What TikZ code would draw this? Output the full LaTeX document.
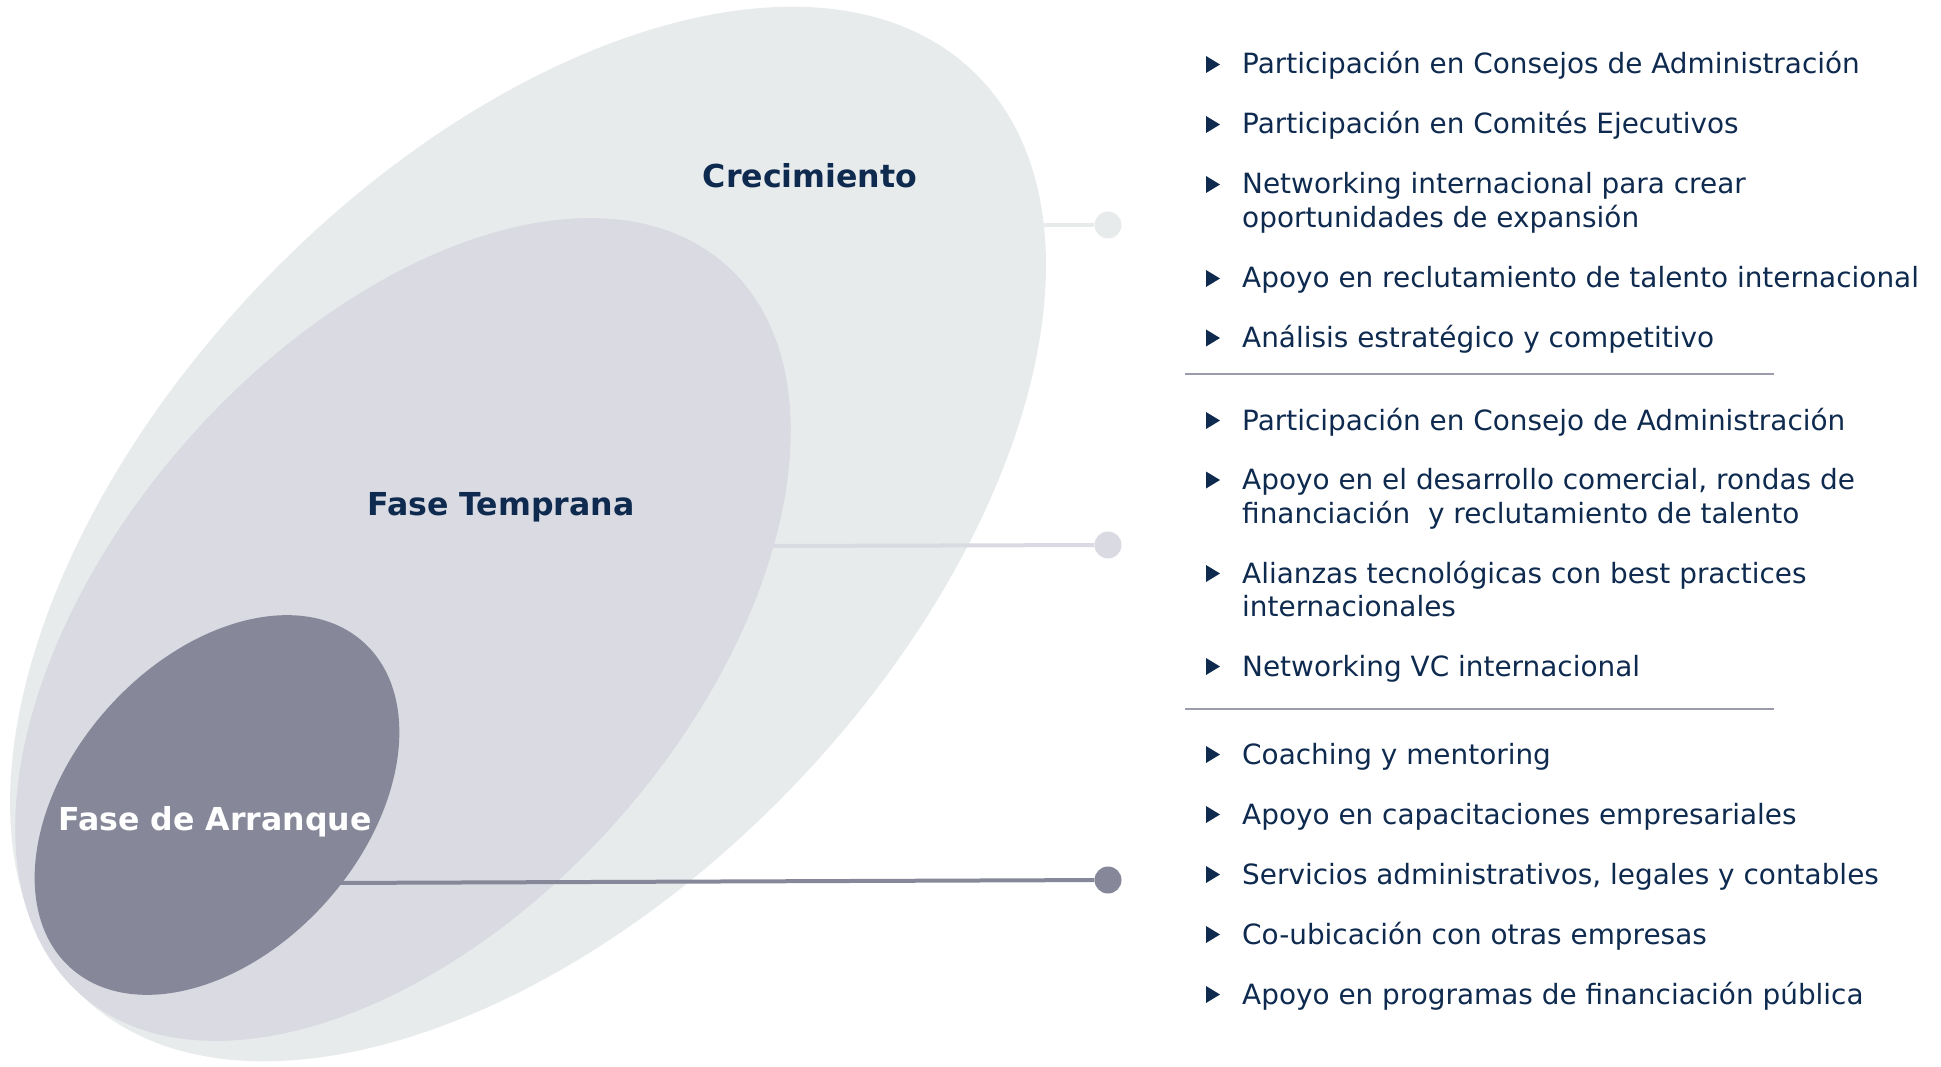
\documentclass[tikz,border=0pt]{standalone}
\usepackage{fontspec}
\setmainfont{DejaVu Sans}
\usetikzlibrary{shapes.geometric}
\definecolor{navy}{HTML}{0E2A4F}
\definecolor{outerc}{HTML}{E8EBEC}
\definecolor{midc}{HTML}{D9DAE2}
\definecolor{innerc}{HTML}{868899}
\definecolor{sepgray}{HTML}{9A9CAB}
\tikzset{
  blob/.style={ellipse, inner sep=0pt, draw=none},
  itemtext/.style={anchor=base west, inner sep=0pt, text=navy, font=\fontsize{27.9}{33.5}\selectfont},
  phase/.style={font=\fontsize{31.6}{38}\selectfont\bfseries, inner sep=0pt, anchor=base},
  dotnode/.style={circle, inner sep=0pt, minimum size=27pt},
  conn/.style={line width=4pt},
  sepline/.style={draw=sepgray, line width=2pt}
}
\newcommand\itm[3]{%
  \node[itemtext] (#1) at (1242,#2) {#3};
  \fill[navy] ([xshift=-36pt,yshift=1pt]#1.base west) -- ++(0,-17) -- ++(14,8.5) -- cycle;}
\newcommand\cont[3]{\node[itemtext] (#1) at (1242,#2) {#3};}
\begin{document}
\begin{tikzpicture}[x=1pt,y=-1pt]
\useasboundingbox (0,0) rectangle (1941,1067);
% outer ellipse
\node[blob, fill=outerc, minimum width=1284pt, minimum height=732pt, rotate=46] (outer) at (528,534) {};
% connectors behind inner shapes
\coordinate (c1) at (1040,225);
\node[dotnode, fill=outerc] (d1) at (1108,225) {};
\draw[conn, draw=outerc] (c1) -- (d1);
\coordinate (c2) at (770,546);
\node[dotnode, fill=midc] (d2) at (1108,545) {};
\draw[conn, draw=midc] (c2) -- (d2);
% middle ellipse
\node[blob, fill=midc, minimum width=974pt, minimum height=574pt, rotate=48.5] (middle) at (403,629.5) {};
\coordinate (c3) at (330,883);
\node[dotnode, fill=innerc] (d3) at (1108,880) {};
\draw[conn, draw=innerc] (c3) -- (d3);
% inner ellipse
\node[blob, fill=innerc, minimum width=438pt, minimum height=292pt, rotate=48] (inner) at (217,805) {};
% phase labels
\node[phase, text=navy] (lc) at (810,188) {Crecimiento};
\node[phase, text=navy] (lt) at (501,515) {Fase Temprana};
\node[phase, text=white] (la) at (215,830) {Fase de Arranque};
% group 1
\itm{a1}{74}{Participación en Consejos de Administración}
\itm{a2}{134}{Participación en Comités Ejecutivos}
\itm{a3}{194}{Networking internacional para crear}
\cont{a3b}{227.5}{oportunidades de expansión}
\itm{a4}{288}{Apoyo en reclutamiento de talento internacional}
\itm{a5}{347.5}{Análisis estratégico y competitivo}
\coordinate (s1a) at (1185,374);
\coordinate (s1b) at (1774,374);
\draw[sepline] (s1a) -- (s1b);
% group 2
\itm{b1}{430}{Participación en Consejo de Administración}
\itm{b2}{489.5}{Apoyo en el desarrollo comercial, rondas de}
\cont{b2b}{523}{financiación\ \ y reclutamiento de talento}
\itm{b3}{583}{Alianzas tecnológicas con best practices}
\cont{b3b}{616.5}{internacionales}
\itm{b4}{676}{Networking VC internacional}
\coordinate (s2a) at (1185,709);
\coordinate (s2b) at (1774,709);
\draw[sepline] (s2a) -- (s2b);
% group 3
\itm{e1}{764}{Coaching y mentoring}
\itm{e2}{824}{Apoyo en capacitaciones empresariales}
\itm{e3}{884}{Servicios administrativos, legales y contables}
\itm{e4}{944}{Co-ubicación con otras empresas}
\itm{e5}{1004}{Apoyo en programas de financiación pública}
\end{tikzpicture}
\end{document}
